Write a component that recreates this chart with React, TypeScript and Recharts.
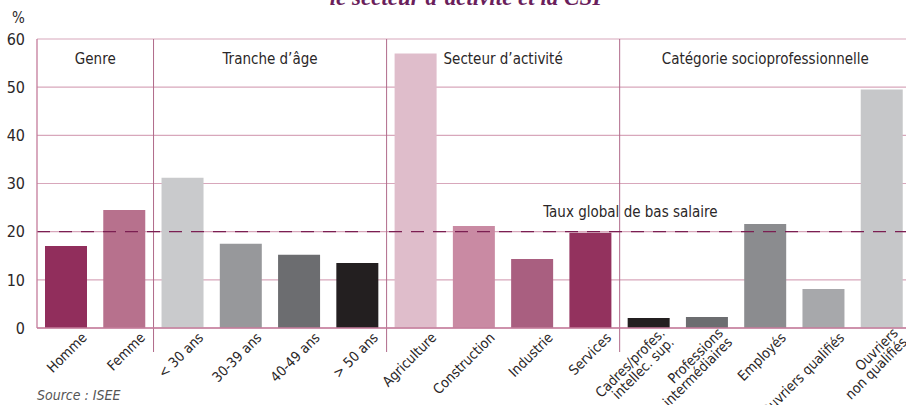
import React from 'react';
import { BarChart, Bar, XAxis, YAxis, CartesianGrid, ReferenceLine, ReferenceArea, Cell } from 'recharts';

const categories = [
  'Homme', 'Femme',
  '< 30 ans', '30-39 ans', '40-49 ans', '> 50 ans',
  'Agriculture', 'Construction', 'Industrie', 'Services',
  'Cadres/profes.\nintellec. sup.', 'Professions\nintermédiaires', 'Employés', 'Ouvriers qualifiés', 'Ouvriers\nnon qualifiés',
];
const values = [17.0, 24.5, 31.2, 17.5, 15.2, 13.5, 57.0, 21.2, 14.3, 19.8, 2.1, 2.3, 21.6, 8.1, 49.5];
const colors = [
  '#912e5c', '#b7718d',
  '#c9cacc', '#97989b', '#6c6d70', '#231f20',
  '#dfbdcb', '#c98aa3', '#a95f80', '#93325e',
  '#231f20', '#6c6d70', '#8b8c8f', '#a7a8ab', '#c6c7c9',
];
const groupNames = ['Genre', 'Tranche d\u2019âge', 'Secteur d\u2019activité', 'Catégorie socioprofessionnelle'];
const groupFirst = [0, 2, 6, 10];
const groupLast = [1, 5, 9, 14];
const yTicks = [0, 10, 20, 30, 40, 50, 60];
const globalRate = 20;
const globalRateLabel = 'Taux global de bas salaire';

const data = categories.map((c, i) => ({ name: c, value: values[i] }));

const FONT = "'Liberation Sans Narrow', 'Arial Narrow', 'DejaVu Sans Condensed', sans-serif";
const TEXT = '#2b2728';
const GRID = '#d8a7bb';
const AXIS = '#c47c9b';
const SEP = '#b06a8a';
const DASH = '#7b1f52';

const XTick = (props: any) => {
  const { x, y, payload } = props;
  const lines = String(payload.value).split('\n');
  const lh = 13;
  return (
    <g transform={`translate(${x + 18},${y - 1}) rotate(-45)`}>
      <text textAnchor="end" fill={TEXT} fontSize={14} fontFamily={FONT}>
        {lines.map((l, i) => (
          <tspan key={i} x={0} dy={i === 0 ? 5 - ((lines.length - 1) * lh) / 2 : lh}>{l}</tspan>
        ))}
      </text>
    </g>
  );
};

const SepShape = (props: any) => {
  const { x, y, width, height } = props;
  const cx = x + width / 2;
  return <line x1={cx} x2={cx} y1={y} y2={y + height + 24} stroke={SEP} strokeWidth={1} />;
};

const RateLabel = (props: any) => {
  const vb = props.viewBox || {};
  return (
    <text x={vb.x + vb.width * 0.679} y={vb.y - 15} textAnchor="middle" fill={TEXT} fontSize={15} fontFamily={FONT}>
      {globalRateLabel}
    </text>
  );
};

export default function App() {
  return (
    <div style={{ position: 'absolute', left: 0, top: 0, width: 906, height: 405, overflow: 'hidden', background: '#fff' }}>
      <BarChart width={920} height={405} data={data} margin={{ top: 39, right: 9, left: 7, bottom: 0 }} barSize={42}>
        <CartesianGrid horizontal vertical={false} stroke={GRID} strokeWidth={1.2} />
        <XAxis dataKey="name" interval={0} tickLine={false} axisLine={{ stroke: AXIS, strokeWidth: 1.3 }} tick={<XTick />} height={77} />
        <YAxis
          domain={[0, 60]}
          ticks={yTicks}
          width={30}
          tickLine={false}
          axisLine={{ stroke: AXIS, strokeWidth: 1.3 }}
          tick={{ fill: TEXT, fontSize: 16, fontFamily: FONT }}
          tickMargin={6}
          interval={0}
        />
        {groupNames.map((g, i) => (
          <ReferenceArea
            key={g}
            x1={categories[groupFirst[i]]}
            x2={categories[groupLast[i]]}
            fill="none"
            fillOpacity={0}
            stroke="none"
            ifOverflow="visible"
            label={{ value: g, position: 'insideTop', offset: 14, fill: TEXT, fontSize: 15, fontFamily: FONT }}
          />
        ))}
        <Bar dataKey="value" isAnimationActive={false}>
          {data.map((d, i) => (
            <Cell key={d.name} fill={colors[i]} />
          ))}
        </Bar>
        {groupLast.slice(0, -1).map((last, i) => (
          <ReferenceArea
            key={`sep-${i}`}
            x1={categories[last]}
            x2={categories[groupFirst[i + 1]]}
            ifOverflow="visible"
            shape={<SepShape />}
          />
        ))}
        <ReferenceLine y={globalRate} stroke={DASH} strokeWidth={1.3} strokeDasharray="13 9" label={<RateLabel />} />
      </BarChart>
      <svg width={906} height={405} style={{ position: 'absolute', left: 0, top: 0, pointerEvents: 'none' }}>
        <text x={468} y={5} textAnchor="middle" fill="#6b1f5c" fontSize={23} fontWeight="bold" fontStyle="italic" fontFamily="'Liberation Serif', serif">
          le secteur d’activité et la CSP
        </text>
        <text x={12} y={23} fill={TEXT} fontSize={15} fontFamily={FONT}>%</text>
        <text x={37} y={400} fill="#555" fontSize={14} fontStyle="italic" fontFamily={FONT}>Source : ISEE</text>
      </svg>
    </div>
  );
}
